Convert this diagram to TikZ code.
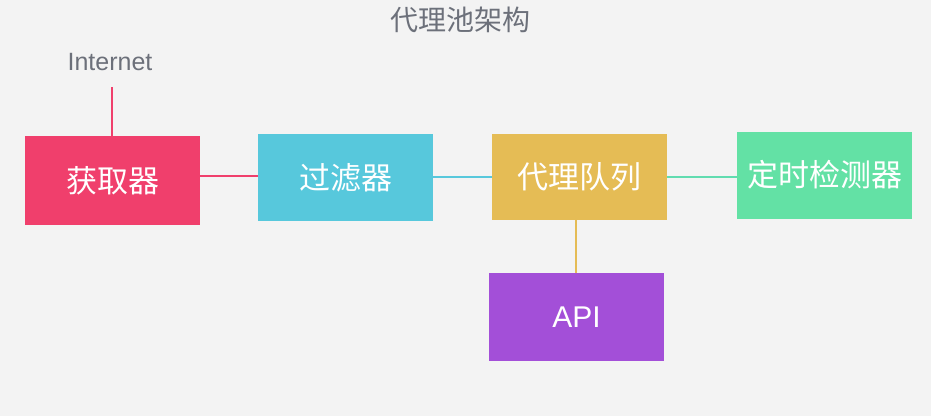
\documentclass[tikz,border=0pt]{standalone}
\usepackage{fontspec}
\setmainfont{Liberation Sans}
\newfontfamily\cjk{Noto Sans CJK SC}
\definecolor{bgc}{HTML}{F3F3F3}
\definecolor{redc}{HTML}{F03F6C}
\definecolor{cyanc}{HTML}{57C8DC}
\definecolor{yelc}{HTML}{E5BC55}
\definecolor{grnc}{HTML}{63E1A5}
\definecolor{purc}{HTML}{A34FD8}
\definecolor{txtc}{HTML}{6C707A}
\tikzset{
  boxn/.style={rectangle, inner sep=0pt, text=white, font=\cjk\fontsize{31}{36}\selectfont},
  conn/.style={line width=1.6pt},
  lbl/.style={text=txtc, inner sep=0pt}
}
\begin{document}
\begin{tikzpicture}[x=1pt,y=-1pt]
\fill[bgc] (0,0) rectangle (931,416);
\useasboundingbox (0,0) rectangle (931,416);
\node[lbl, font=\cjk\fontsize{28}{32}\selectfont] (title) at (460,20) {代理池架构};
\node[lbl, font=\fontsize{25}{29}\selectfont] (inet) at (110,62) {Internet};
\node[boxn, fill=redc, minimum width=175pt, minimum height=89pt] (get) at (112.5,180.5) {获取器};
\node[boxn, fill=cyanc, minimum width=175pt, minimum height=87pt] (flt) at (345.5,177.5) {过滤器};
\node[boxn, fill=yelc, minimum width=175pt, minimum height=86pt] (que) at (579.5,177) {代理队列};
\node[boxn, fill=grnc, minimum width=175pt, minimum height=87pt] (tmr) at (824.5,175) {定时检测器};
\node[boxn, fill=purc, minimum width=175pt, minimum height=88pt, font=\fontsize{30}{34}\selectfont] (api) at (576.5,317) {API};
\coordinate (itop) at (112,87);
\draw[conn, draw=redc] (itop) -- (itop |- get.north);
\draw[conn, draw=redc] (get.east |- 0,176) -- (flt.west |- 0,176);
\draw[conn, draw=cyanc] (flt.east |- 0,177) -- (que.west |- 0,177);
\draw[conn, draw=grnc!80!cyanc] (que.east |- 0,177) -- (tmr.west |- 0,177);
\draw[conn, draw=yelc] (que.south -| 576,0) -- (api.north -| 576,0);
\end{tikzpicture}
\end{document}
